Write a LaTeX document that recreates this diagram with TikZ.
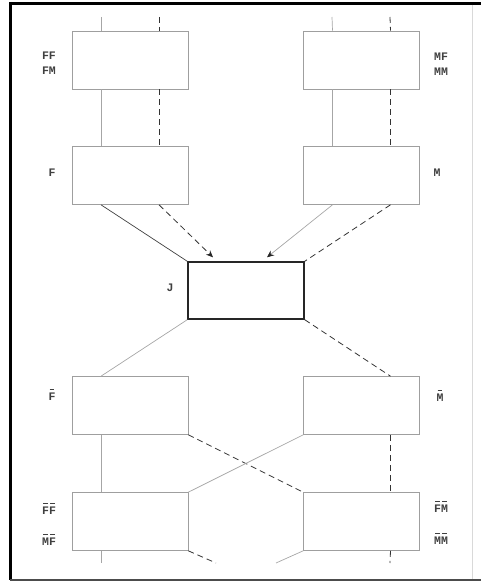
\documentclass[tikz,border=0pt]{standalone}
\usepackage{fontspec}
\setmonofont{Liberation Mono}
\usepackage{tikz}
\usetikzlibrary{arrows.meta}
\usetikzlibrary{positioning}

% one short bar over each letter
\newcommand{\ovl}[1]{\setbox0\hbox{#1}\rlap{\hbox to\wd0{\hss\raisebox{1.35\ht0}{\rule{0.7\wd0}{0.9pt}}\hss}}\box0}

\tikzset{
  gen/.style={draw=gray!75, line width=0.6pt, minimum width=116pt, minimum height=58pt, inner sep=0pt},
  joint/.style={draw=black!85, line width=1.4pt, minimum width=116pt, minimum height=57pt, inner sep=0pt},
  lbl/.style={font=\ttfamily\bfseries\fontsize{11.5}{14}\selectfont, text=black!75, align=center, inner sep=1pt},
  sline/.style={draw=gray!70, line width=0.7pt},
  dline/.style={draw=black!80, line width=0.8pt, dash pattern=on 6pt off 4pt},
  tip/.style={-{Stealth[length=7pt,width=6pt,color=black!85]}}
}

\begin{document}
\begin{tikzpicture}[x=1pt, y=-1pt]

\useasboundingbox (0,0) rectangle (481,583);

% frame
\draw[black, line width=3pt] (10.5,3.5) -- (481,3.5);
\draw[black, line width=3pt] (10.5,2) -- (10.5,580);
\draw[black!70, line width=2pt] (10,580) -- (481,580);
\draw[gray!30, line width=0.5pt] (472,5) -- (472,579);

% generation boxes
\node[gen] (ff)  at (130,60)  {};
\node[gen] (f)   at (130,175.5) {};
\node[gen] (mf)  at (361.5,60) {};
\node[gen] (m)   at (361.5,175.5) {};
\node[joint] (j) at (246,290.5) {};
\node[gen] (fb)  at (130,405.5) {};
\node[gen] (mb)  at (361.5,405.5) {};
\node[gen] (ffb) at (130,521.5) {};
\node[gen] (fmb) at (361.5,521.5) {};

% labels
\node[lbl] (lff)  at (49,63)  {FF\\[1pt]FM};
\node[lbl] (lf)   at (52,173) {F};
\node[lbl] (lmf)  at (441,64) {MF\\[1pt]MM};
\node[lbl] (lm)   at (437,173) {M};
\node[lbl] (lj)   at (170,288) {J};
\node[lbl] (lfb)  at (52,395) {\ovl{F}};
\node[lbl] (lmb)  at (440,396) {\ovl{M}};
\node[lbl] (lffb) at (49,509) {\ovl{F}\ovl{F}};
\node[lbl] (lmfb) at (49,540) {\ovl{M}\ovl{F}};
\node[lbl] (lfmb) at (441,507) {\ovl{F}\ovl{M}};
\node[lbl] (lmmb) at (441,539) {\ovl{M}\ovl{M}};

% free ends
\coordinate (ffin) at (101,17);
\coordinate (ffid) at (159,17);
\coordinate (mfin) at (332,17);
\coordinate (mfid) at (390,17);
\coordinate (ffout) at (101,563);
\coordinate (fmout) at (390,563);
\coordinate (ffx) at (216,563);
\coordinate (fmx) at (276,563);

% upper lines
\draw[sline] (ffin) -- ([xshift=-29pt]ff.north);
\draw[dline] (ffid) -- ([xshift=29pt]ff.north);
\draw[sline] (mfin) -- ([xshift=-29pt]mf.north);
\draw[dline] (mfid) -- ([xshift=29pt]mf.north);
\draw[sline] ([xshift=-29pt]ff.south) -- ([xshift=-29pt]f.north);
\draw[dline] ([xshift=29pt]ff.south) -- ([xshift=29pt]f.north);
\draw[sline] ([xshift=-29pt]mf.south) -- ([xshift=-29pt]m.north);
\draw[dline] ([xshift=29pt]mf.south) -- ([xshift=29pt]m.north);

% into J
\draw[sline, black!75] ([xshift=-29pt]f.south) -- (j.north west);
\draw[dline, tip] ([xshift=29pt]f.south) -- ([xshift=-33pt,yshift=4pt]j.north);
\draw[sline, tip] ([xshift=-29pt]m.south) -- ([xshift=21pt,yshift=4pt]j.north);
\draw[dline] ([xshift=29pt]m.south) -- (j.north east);

% out of J
\draw[sline] (j.south west) -- ([xshift=-29pt]fb.north);
\draw[dline] (j.south east) -- ([xshift=29pt]mb.north);

% lower lines
\draw[sline] ([xshift=-29pt]fb.south) -- ([xshift=-29pt]ffb.north);
\draw[dline] ([xshift=29pt]mb.south) -- ([xshift=29pt]fmb.north);
\draw[dline] (fb.south east) -- (fmb.north west);
\draw[sline] (ffb.north east) -- (mb.south west);
\draw[sline] ([xshift=-29pt]ffb.south) -- (ffout);
\draw[dline] ([xshift=29pt]fmb.south) -- (fmout);
\draw[dline] (ffb.south east) -- (ffx);
\draw[sline] (fmb.south west) -- (fmx);

\end{tikzpicture}
\end{document}
